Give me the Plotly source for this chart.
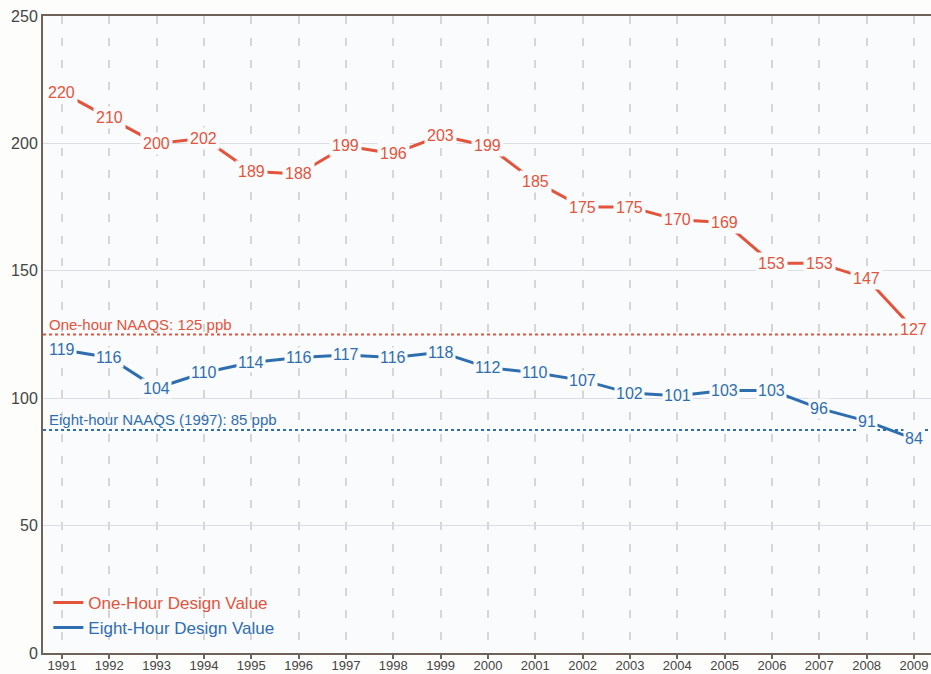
import plotly.graph_objects as go

years = list(range(1991, 2010))
one_hour = [220, 210, 200, 202, 189, 188, 199, 196, 203, 199, 185, 175, 175, 170, 169, 153, 153, 147, 127]
eight_hour = [119, 116, 104, 110, 114, 116, 117, 116, 118, 112, 110, 107, 102, 101, 103, 103, 96, 91, 84]
one_hour_std = 125
eight_hour_std = 87.5
y_ticks = [0, 50, 100, 150, 200, 250]

RED = "#e2543c"
BLUE = "#2f6eae"
PLOT_BG = "#fafbfd"
FONT = "Arial, Liberation Sans, sans-serif"

fig = go.Figure()
fig.add_trace(go.Scatter(x=years, y=one_hour, mode="lines",
                         line=dict(color=RED, width=3),
                         name="<span style='color:%s'>One-Hour Design Value</span>" % RED))
fig.add_trace(go.Scatter(x=years, y=eight_hour, mode="lines",
                         line=dict(color=BLUE, width=3),
                         name="<span style='color:%s'>Eight-Hour Design Value</span>" % BLUE))

annotations = []
for x, y in zip(years, one_hour):
    annotations.append(dict(x=x, y=y, xref="x", yref="y", text=str(y), showarrow=False,
                            font=dict(color=RED, size=16, family=FONT),
                            bgcolor=PLOT_BG, borderpad=2))
for x, y in zip(years, eight_hour):
    annotations.append(dict(x=x, y=y, xref="x", yref="y", text=str(y), showarrow=False,
                            font=dict(color=BLUE, size=16, family=FONT),
                            bgcolor=PLOT_BG, borderpad=1))

annotations.append(dict(x=0.005, y=one_hour_std, xref="paper", yref="y", xanchor="left", yanchor="bottom",
                        text="One-hour NAAQS: 125 ppb", showarrow=False, yshift=0,
                        font=dict(color=RED, size=15, family=FONT)))
annotations.append(dict(x=0.005, y=eight_hour_std, xref="paper", yref="y", xanchor="left", yanchor="bottom",
                        text="Eight-hour NAAQS (1997): 85 ppb", showarrow=False, yshift=0,
                        font=dict(color=BLUE, size=15, family=FONT)))

shapes = [
    dict(type="line", xref="paper", yref="y", x0=0, x1=1, y0=one_hour_std, y1=one_hour_std,
         line=dict(color=RED, width=2, dash="dot"), layer="below"),
    dict(type="line", xref="paper", yref="y", x0=0, x1=1, y0=eight_hour_std, y1=eight_hour_std,
         line=dict(color=BLUE, width=2, dash="dot"), layer="below"),
]

fig.update_layout(
    width=931, height=674,
    margin=dict(l=43, r=0, t=16, b=21, autoexpand=False),
    paper_bgcolor="#fdfdfb",
    plot_bgcolor=PLOT_BG,
    font=dict(family=FONT, size=14, color="#444"),
    annotations=annotations,
    shapes=shapes,
    showlegend=True,
    legend=dict(x=0.006, y=0.059, xanchor="left", yanchor="middle",
                bgcolor="rgba(0,0,0,0)", font=dict(size=17, family=FONT),
                tracegroupgap=0, itemwidth=30),
    xaxis=dict(range=[1990.6, 2009.36], tickmode="array", tickvals=years,
               ticktext=[str(y) for y in years], automargin=False,
               showgrid=True, gridcolor="#d6d6d6", griddash="8px,14px", gridwidth=1.5,
               showline=True, linecolor="#6e6259", linewidth=2, mirror=True,
               ticks="outside", ticklen=4, tickcolor="#6e6259", tickwidth=2,
               ticklabelstandoff=-5,
               tickfont=dict(size=13, color="#444"), zeroline=False),
    yaxis=dict(range=[0, 250], tickmode="array", tickvals=y_ticks, automargin=False,
               showgrid=True, gridcolor="#dcdce4", gridwidth=1,
               showline=True, linecolor="#6e6259", linewidth=2, mirror=False,
               ticks="", tickfont=dict(size=16, color="#444"), zeroline=False),
)

fig.write_html("out.html", config={"displayModeBar": False},
               post_script="document.body.style.margin='0';document.body.style.overflow='hidden';")
